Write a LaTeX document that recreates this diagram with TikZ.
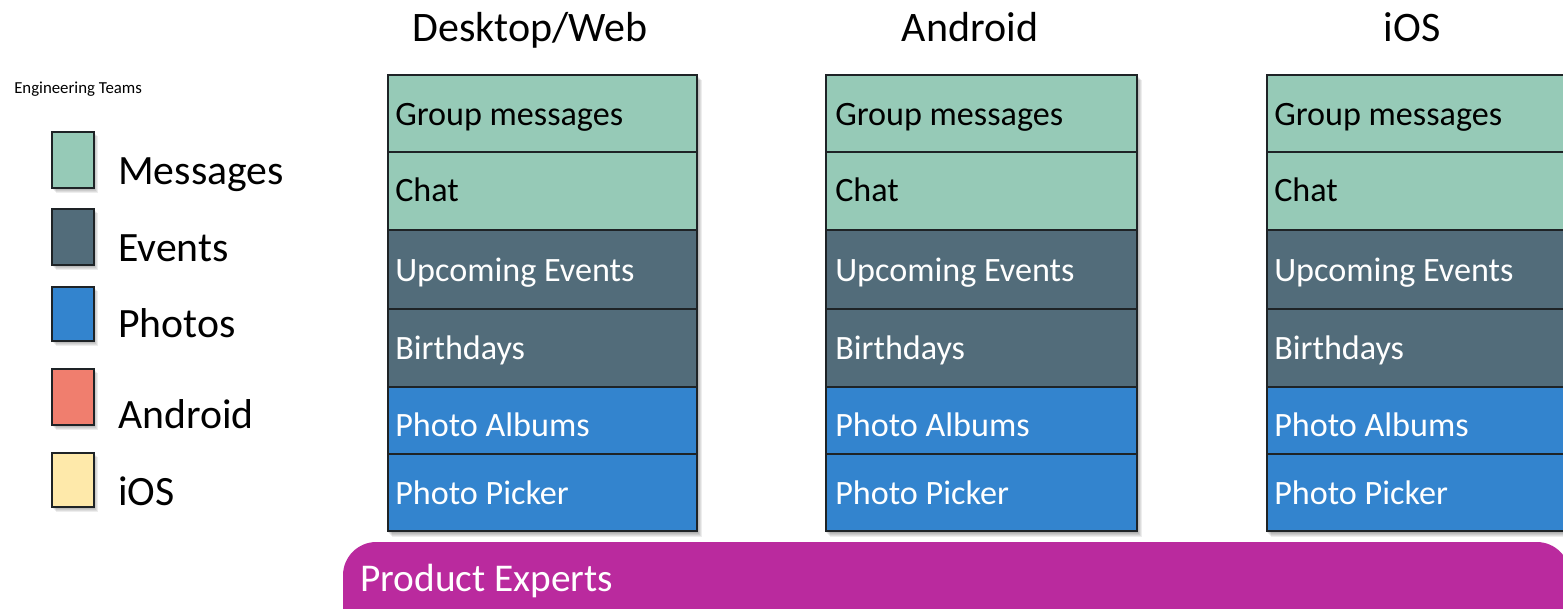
\documentclass[tikz,border=0pt]{standalone}
\usepackage{fontspec}
\setmainfont{Carlito}
\definecolor{msgc}{HTML}{96CAB7}
\definecolor{evtc}{HTML}{526C7A}
\definecolor{phoc}{HTML}{3384CE}
\definecolor{andc}{HTML}{F07E6E}
\definecolor{iosc}{HTML}{FEE9AA}
\definecolor{proc}{HTML}{BA2A9E}
\definecolor{edgec}{HTML}{1E2326}
\tikzset{
  cellbox/.style={draw=edgec, line width=1pt},
  celltext/.style={anchor=base west, inner sep=0pt, font=\fontsize{25.6}{30}\selectfont},
  titletext/.style={anchor=base, inner sep=0pt, font=\fontsize{31.5}{36}\selectfont},
  legtext/.style={anchor=base west, inner sep=0pt, font=\fontsize{31.3}{36}\selectfont},
  legbox/.style={draw=edgec, line width=1pt},
  shade1/.style={fill=black, fill opacity=0.07},
}
\begin{document}
\begin{tikzpicture}[x=0.75pt,y=-0.75pt]
\useasboundingbox (0,0) rectangle (1563,609);
\clip (0,0) rectangle (1563,609);
\fill[white] (0,0) rectangle (1563,609);

% column titles
\node[titletext] (tdw) at (530,42) {Desktop/Web};
\node[titletext] (tan) at (970,42) {Android};
\node[titletext] (tio) at (1412,42) {iOS};

% legend
\node[anchor=base west, inner sep=0pt, font=\fontsize{12.6}{14}\selectfont] (engt) at (14,94) {Engineering Teams};
\foreach \t/\b/\c/\lab/\bl/\nm in {132/188/msgc/Messages/185/lm, 209/265/evtc/Events/262/le, 287/341/phoc/Photos/338/lp, 369/425/andc/Android/428/la, 453/507/iosc/iOS/505/li}{
  \foreach \d in {1,2,3,4}{\fill[shade1] (52+\d,\t+\d) rectangle (94+\d,\b+\d+1);}
  \draw[legbox, fill=\c] (52,\t) rectangle (94,\b);
  \node[legtext] (\nm) at (118,\bl) {\lab};
}

% feature columns
\foreach \xa/\xb/\xt/\nm in {388/697/395/dw, 826/1137/835/an, 1267/1600/1274/io}{
  \foreach \d in {1,2,3,4,5}{\fill[shade1] (\xa+\d-1,75+\d) rectangle (\xb+\d,531+\d+1);}
  \foreach \t/\b/\c/\tc/\lab/\dy [count=\k] in {75/152/msgc/black/Group messages/12, 152/230/msgc/black/Chat/11, 230/309/evtc/white/Upcoming Events/12, 309/387/evtc/white/Birthdays/12, 387/454/phoc/white/Photo Albums/16, 454/531/phoc/white/Photo Picker/12}{
    \draw[cellbox, fill=\c] (\xa,\t) rectangle (\xb,\b);
    \node[celltext, text=\tc] (\nm\k) at (\xt,{(\t+\b)/2+\dy}) {\lab};
  }
}

% product experts bar
\fill[proc, rounded corners=25] (343,542) rectangle (1570,660);
\node[anchor=base west, inner sep=0pt, text=white, font=\fontsize{29.5}{34}\selectfont] (prod) at (360,591) {Product Experts};
\end{tikzpicture}
\end{document}
